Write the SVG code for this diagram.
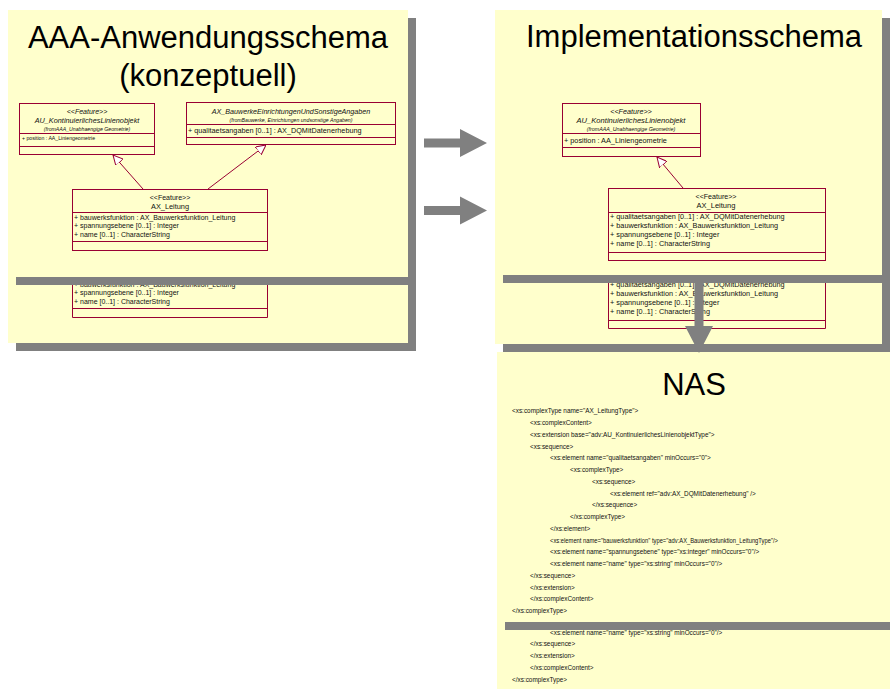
<svg xmlns="http://www.w3.org/2000/svg" width="890" height="689" viewBox="0 0 890 689">
<style>
.panel{fill:#FFFFCC}
.shadow{fill:#808080}
.title{font-family:"Liberation Sans",Arial,sans-serif;font-size:31px;fill:#000;text-anchor:middle}
.box{fill:none;stroke:#990033;stroke-width:1}
.t{font-family:"Liberation Sans",Arial,sans-serif;font-size:7px;fill:#111}
.c{text-anchor:middle}
.i{font-style:italic}
.fr{font-size:5.2px}
.r{font-size:7.3px}
.x{font-family:"Liberation Sans",Arial,sans-serif;font-size:6.4px;fill:#111}
.gen{fill:none;stroke:#990033;stroke-width:1}
.arr{fill:#808080}
</style>
<defs>
<marker id="tri" viewBox="0 0 10 10" refX="10" refY="5" markerWidth="10" markerHeight="10" markerUnits="userSpaceOnUse" orient="auto">
<path d="M0,0 L10,5 L0,10 Z" fill="#FFFFFF" stroke="#990033" stroke-width="1"/>
</marker>
</defs>

<g id="panel-conceptual">
<rect class="shadow" x="16" y="18" width="400" height="333"/>
<rect class="panel" x="8" y="10" width="400" height="333"/>
<text class="title" x="208" y="48">AAA-Anwendungsschema</text>
<text class="title" x="208" y="86">(konzeptuell)</text>
</g>

<g id="left-AU_KontinuierlichesLinienobjekt">
<rect class="box" x="19.5" y="103.5" width="135" height="51"/>
<line class="box" x1="19.5" y1="133.5" x2="154.5" y2="133.5"/>
<line class="box" x1="19.5" y1="146.5" x2="154.5" y2="146.5"/>
<text class="t c i" x="87" y="113.5">&lt;&lt;Feature&gt;&gt;</text>
<text class="t c i" x="87" y="122.5" style="font-size:7.3px">AU_KontinuierlichesLinienobjekt</text>
<text class="t c i fr" x="87" y="131">(fromAAA_Unabhaengige Geometrie)</text>
<text class="t" x="22" y="140" style="font-size:5.2px">+ position : AA_Liniengeometrie</text>
</g>

<g id="left-AX_BauwerkeEinrichtungenUndSonstigeAngaben">
<rect class="box" x="186.5" y="102.5" width="209" height="42"/>
<line class="box" x1="186.5" y1="124.5" x2="395.5" y2="124.5"/>
<line class="box" x1="186.5" y1="137.5" x2="395.5" y2="137.5"/>
<text class="t c i" x="291" y="113.5" style="font-size:7.15px">AX_BauwerkeEinrichtungenUndSonstigeAngaben</text>
<text class="t c i fr" x="291" y="122">(fromBauwerke, Einrichtungen undsonstige Angaben)</text>
<text class="t" x="188" y="132.5" style="font-size:7.25px">+ qualitaetsangaben [0..1] : AX_DQMitDatenerhebung</text>
</g>

<g id="left-AX_Leitung">
<rect class="box" x="72.5" y="189.5" width="195" height="61"/>
<line class="box" x1="72.5" y1="212.5" x2="267.5" y2="212.5"/>
<line class="box" x1="72.5" y1="241.5" x2="267.5" y2="241.5"/>
<text class="t c" x="170" y="199.5">&lt;&lt;Feature&gt;&gt;</text>
<text class="t c" x="170" y="208.6" style="font-size:7.35px">AX_Leitung</text>
<text class="t" x="74" y="219.5">+ bauwerksfunktion : AX_Bauwerksfunktion_Leitung</text>
<text class="t" x="74" y="228.2">+ spannungsebene [0..1] : Integer</text>
<text class="t" x="74" y="236.9">+ name [0..1] : CharacterString</text>
<line class="box" x1="72.5" y1="283" x2="72.5" y2="317.5"/>
<line class="box" x1="267.5" y1="283" x2="267.5" y2="317.5"/>
<line class="box" x1="72.5" y1="308.5" x2="267.5" y2="308.5"/>
<line class="box" x1="72.5" y1="317.5" x2="267.5" y2="317.5"/>
<text class="t" x="74" y="286.5">+ bauwerksfunktion : AX_Bauwerksfunktion_Leitung</text>
<text class="t" x="74" y="295.2">+ spannungsebene [0..1] : Integer</text>
<text class="t" x="74" y="303.9">+ name [0..1] : CharacterString</text>
<rect class="shadow" x="16" y="277" width="400" height="8"/>
</g>

<g id="panel-implementation">
<rect class="shadow" x="503" y="18" width="387" height="334"/>
<rect class="panel" x="495" y="10" width="387" height="334"/>
<text class="title" x="694" y="47">Implementationsschema</text>
</g>

<g id="right-AU_KontinuierlichesLinienobjekt">
<rect class="box" x="562.5" y="103.5" width="138" height="53"/>
<line class="box" x1="562.5" y1="133.5" x2="700.5" y2="133.5"/>
<line class="box" x1="562.5" y1="147.5" x2="700.5" y2="147.5"/>
<text class="t c i" x="631" y="113.5" style="font-size:7.2px">&lt;&lt;Feature&gt;&gt;</text>
<text class="t c i" x="631" y="122.8" style="font-size:7.6px">AU_KontinuierlichesLinienobjekt</text>
<text class="t c i" x="631" y="131.3" style="font-size:5.3px">(fromAAA_Unabhaengige Geometrie)</text>
<text class="t r" x="564" y="142.5">+ position : AA_Liniengeometrie</text>
</g>

<g id="right-AX_Leitung">
<rect class="box" x="608.5" y="188.5" width="217" height="72"/>
<line class="box" x1="608.5" y1="212.5" x2="825.5" y2="212.5"/>
<line class="box" x1="608.5" y1="252.5" x2="825.5" y2="252.5"/>
<text class="t c" x="716" y="198.5" style="font-size:7.1px">&lt;&lt;Feature&gt;&gt;</text>
<text class="t c" x="716" y="207.7" style="font-size:7.5px">AX_Leitung</text>
<text class="t r" x="610" y="218.6">+ qualitaetsangaben [0..1] : AX_DQMitDatenerhebung</text>
<text class="t r" x="610" y="227.6">+ bauwerksfunktion : AX_Bauwerksfunktion_Leitung</text>
<text class="t r" x="610" y="236.6">+ spannungsebene [0..1] : Integer</text>
<text class="t r" x="610" y="245.6">+ name [0..1] : CharacterString</text>
<line class="box" x1="608.5" y1="281" x2="608.5" y2="328.5"/>
<line class="box" x1="825.5" y1="281" x2="825.5" y2="328.5"/>
<line class="box" x1="608.5" y1="320.5" x2="825.5" y2="320.5"/>
<line class="box" x1="608.5" y1="328.5" x2="825.5" y2="328.5"/>
<text class="t r" x="610" y="286.6">+ qualitaetsangaben [0..1] : AX_DQMitDatenerhebung</text>
<text class="t r" x="610" y="295.6">+ bauwerksfunktion : AX_Bauwerksfunktion_Leitung</text>
<text class="t r" x="610" y="304.6">+ spannungsebene [0..1] : Integer</text>
<text class="t r" x="610" y="313.6">+ name [0..1] : CharacterString</text>
<rect class="shadow" x="503" y="275" width="387" height="8"/>
</g>

<g id="panel-nas">
<rect class="panel" x="497" y="352" width="393" height="337"/>
<text class="title" x="694" y="395">NAS</text>
<text class="x" x="512" y="413.3">&lt;xs:complexType name="AX_LeitungType"&gt;</text>
<text class="x" x="530" y="425">&lt;xs:complexContent&gt;</text>
<text class="x" x="530" y="436.8">&lt;xs:extension base="adv:AU_KontinuierlichesLinienobjektType"&gt;</text>
<text class="x" x="530" y="448.5">&lt;xs:sequence&gt;</text>
<text class="x" x="550" y="460.3">&lt;xs:element name="qualitaetsangaben" minOccurs="0"&gt;</text>
<text class="x" x="570" y="472">&lt;xs:complexType&gt;</text>
<text class="x" x="592" y="483.8">&lt;xs:sequence&gt;</text>
<text class="x" x="610" y="495.5">&lt;xs:element ref="adv:AX_DQMitDatenerhebung" /&gt;</text>
<text class="x" x="592" y="507.3">&lt;/xs:sequence&gt;</text>
<text class="x" x="570" y="519">&lt;/xs:complexType&gt;</text>
<text class="x" x="550" y="530.8">&lt;/xs:element&gt;</text>
<text class="x" x="550" y="542.5" textLength="228" lengthAdjust="spacingAndGlyphs">&lt;xs:element name="bauwerksfunktion" type="adv:AX_Bauwerksfunktion_LeitungType"/&gt;</text>
<text class="x" x="550" y="554.3">&lt;xs:element name="spannungsebene" type="xs:integer" minOccurs="0"/&gt;</text>
<text class="x" x="550" y="566">&lt;xs:element name="name" type="xs:string" minOccurs="0"/&gt;</text>
<text class="x" x="530" y="577.8">&lt;/xs:sequence&gt;</text>
<text class="x" x="530" y="589.5">&lt;/xs:extension&gt;</text>
<text class="x" x="530" y="601.3">&lt;/xs:complexContent&gt;</text>
<text class="x" x="512" y="613">&lt;/xs:complexType&gt;</text>
<text class="x" x="550" y="634.5">&lt;xs:element name="name" type="xs:string" minOccurs="0"/&gt;</text>
<text class="x" x="530" y="646.3">&lt;/xs:sequence&gt;</text>
<text class="x" x="530" y="658">&lt;/xs:extension&gt;</text>
<text class="x" x="530" y="669.8">&lt;/xs:complexContent&gt;</text>
<text class="x" x="512" y="681.5">&lt;/xs:complexType&gt;</text>
<rect class="shadow" x="505" y="622" width="385" height="8"/>
</g>

<g id="connectors">
<path class="gen" d="M143,189 L113,155" marker-end="url(#tri)"/>
<path class="gen" d="M208,189 L266,145" marker-end="url(#tri)"/>
<path class="gen" d="M683,188 L657,157" marker-end="url(#tri)"/>
<path class="arr" d="M424,138.5 H460 V129 L487,143 L460,157 V147.5 H424 Z"/>
<path class="arr" d="M424,206 H460 V196.5 L487,210.5 L460,224.5 V215 H424 Z"/>
<path class="arr" d="M694.5,283 H703.5 V326 H713 L699,353 L685,326 H694.5 Z"/>
</g>
</svg>
